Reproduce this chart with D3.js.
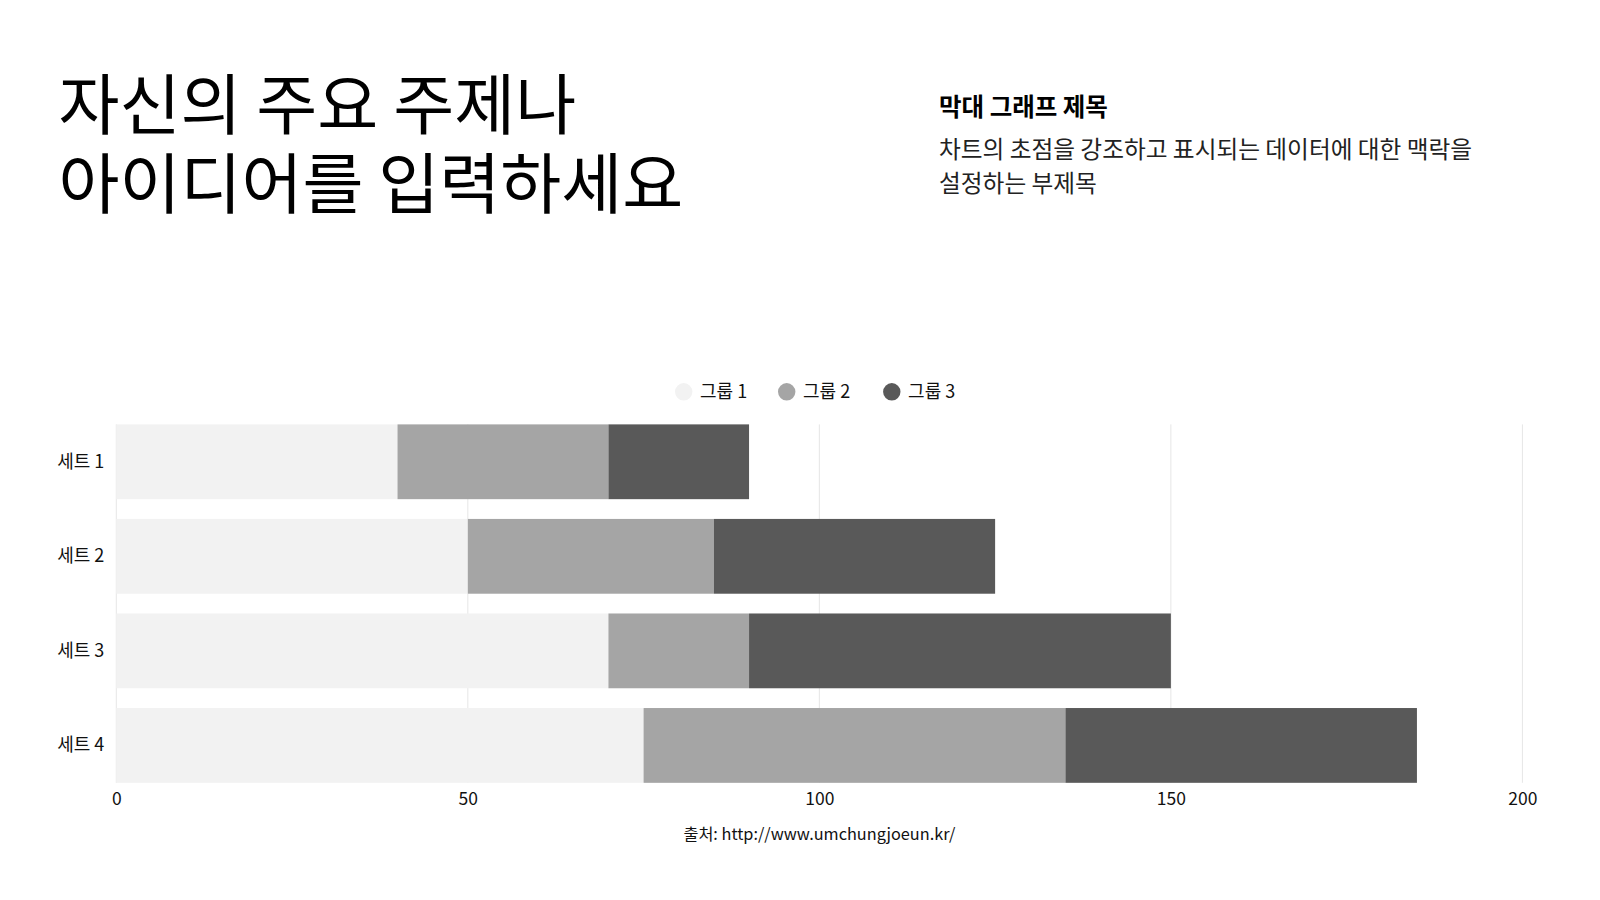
<!DOCTYPE html>
<html><head><meta charset="utf-8">
<script src="https://cdn.jsdelivr.net/npm/d3@7/dist/d3.min.js"></script>
<style>
body{margin:0;background:#fff;}
svg{display:block;font-family:"Noto Sans CJK KR","Noto Sans",sans-serif;}
</style></head>
<body>
<svg id="c" width="1600" height="900"></svg>
<script>
const categories = ["세트 1","세트 2","세트 3","세트 4"];
const seriesNames = ["그룹 1","그룹 2","그룹 3"];
const group1 = [40,50,70,75];
const group2 = [30,35,20,60];
const group3 = [20,40,60,50];
const xTicks = [0,50,100,150,200];
const colors = ["#f2f2f2","#a5a5a5","#595959"];

const svg = d3.select("#c");
const font = '"Noto Sans CJK KR","Noto Sans",sans-serif';

// Title
const title = svg.append("text").attr("fill","#000")
  .style("font-size","66.3px").style("font-weight","400");
title.append("tspan").attr("x",58.5).attr("y",129).text("자신의 주요 주제나");
title.append("tspan").attr("x",58.5).attr("y",208).text("아이디어를 입력하세요");

svg.append("text").attr("x",939).attr("y",116).style("font-size","24.5px").style("font-weight","700")
  .attr("fill","#000").text("막대 그래프 제목");
const sub = svg.append("text").attr("fill","#222").style("font-size","23.7px");
sub.append("tspan").attr("x",939).attr("y",158).text("차트의 초점을 강조하고 표시되는 데이터에 대한 맥락을");
sub.append("tspan").attr("x",939).attr("y",192).text("설정하는 부제목");

// data
const data = categories.map((c,i)=>({cat:c, "그룹 1":group1[i], "그룹 2":group2[i], "그룹 3":group3[i]}));
const stack = d3.stack().keys(seriesNames)(data);

const x = d3.scaleLinear().domain([0,200]).range([116.3,1522.4]);
const y = d3.scaleBand().domain(categories).range([414.5,792.7]).paddingInner(0.209).paddingOuter(0.1045);
const yTop = y(categories[0]);
const yBot = y(categories[categories.length-1]) + y.bandwidth();

// grid
svg.append("g").selectAll("line").data(xTicks).join("line")
  .attr("x1",d=>x(d)).attr("x2",d=>x(d)).attr("y1",yTop).attr("y2",yBot)
  .attr("stroke","#e6e6e6").attr("stroke-width",1);

// bars
svg.append("g").selectAll("g").data(stack).join("g")
  .attr("fill",(d,i)=>colors[i])
  .selectAll("rect").data(d=>d).join("rect")
  .attr("x",d=>x(d[0])).attr("width",d=>x(d[1])-x(d[0]))
  .attr("y",d=>y(d.data.cat)).attr("height",y.bandwidth());

// x axis
const xa = svg.append("g").attr("transform",`translate(0,${yBot})`)
  .call(d3.axisBottom(x).tickValues(xTicks).tickSize(0).tickPadding(10));
xa.select(".domain").remove();
xa.selectAll("text").style("font-size","17.5px").style("font-family",font).attr("fill","#111");

// y axis
const ya = svg.append("g").attr("transform",`translate(${x(0)},0)`)
  .call(d3.axisLeft(y).tickSize(0).tickPadding(12));
ya.select(".domain").remove();
ya.selectAll("text").style("font-size","18px").style("font-family",font).attr("fill","#111");

// legend
const legX = [683.7,786.7,891.8];
const leg = svg.append("g").selectAll("g").data(seriesNames).join("g")
  .attr("transform",(d,i)=>`translate(${legX[i]},391.8)`);
leg.append("circle").attr("r",8.7).attr("fill",(d,i)=>colors[i]);
leg.append("text").attr("x",16.3).attr("dy","0.35em").style("font-size","18px").attr("fill","#111").text(d=>d);

// source
svg.append("text").attr("x",(x(0)+x(200))/2).attr("y",840).attr("text-anchor","middle")
  .style("font-size","16.3px").attr("fill","#111").text("출처: http://www.umchungjoeun.kr/");
</script>
</body></html>
